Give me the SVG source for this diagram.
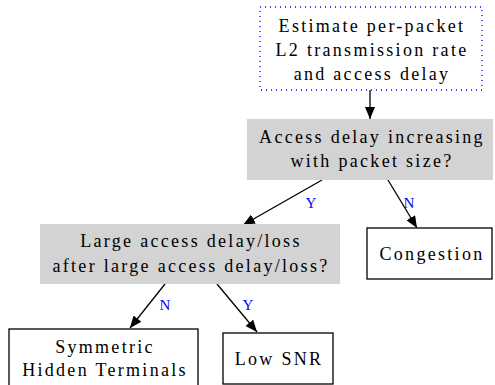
<svg xmlns="http://www.w3.org/2000/svg" width="495" height="385" viewBox="0 0 495 385">
<defs>
<marker id="ah" markerWidth="12" markerHeight="10" refX="12" refY="5" orient="auto" markerUnits="userSpaceOnUse" viewBox="0 0 12 10">
<path d="M0,0 L12,5 L0,10 z" fill="#000"/>
</marker>
<style>
text{font-family:"Liberation Serif","Times New Roman",serif;font-size:18px;letter-spacing:2.3px;text-anchor:middle;fill:#000}
.lbl{font-size:15px;fill:#0000ff;letter-spacing:0}
.box{fill:#fff;stroke:#000;stroke-width:1.3}
.q{fill:#d3d3d3;stroke:none}
.e{stroke:#000;stroke-width:1.3;fill:none;marker-end:url(#ah)}
</style>
</defs>
<rect width="495" height="385" fill="#fff"/>
<g id="connectors">
<line class="e" x1="370" y1="90" x2="370" y2="119"/>
<line class="e" x1="322" y1="180" x2="243" y2="225"/>
<text class="lbl" x="311" y="208">Y</text>
<line class="e" x1="388" y1="180" x2="417" y2="228"/>
<text class="lbl" x="409" y="208">N</text>
<line class="e" x1="165" y1="284" x2="130" y2="328"/>
<text class="lbl" x="165" y="310">N</text>
<line class="e" x1="217" y1="284" x2="257" y2="332"/>
<text class="lbl" x="248" y="310">Y</text>
</g>
<g id="estimate">
<rect x="260" y="7" width="222" height="83" fill="#fff" stroke="#0000ff" stroke-width="1.3" stroke-dasharray="1,4"/>
<text x="372" y="32">Estimate per-packet</text>
<text x="372" y="56">L2 transmission rate</text>
<text x="372" y="80">and access delay</text>
</g>
<g id="q1">
<rect class="q" x="247" y="119" width="246" height="61"/>
<text x="372" y="143">Access delay increasing</text>
<text x="372" y="167">with packet size?</text>
</g>
<g id="congestion">
<rect class="box" x="367" y="228" width="125" height="51"/>
<text x="432" y="260">Congestion</text>
</g>
<g id="q2">
<rect class="q" x="40" y="224" width="300" height="60"/>
<text x="191" y="247">Large access delay/loss</text>
<text x="191" y="272">after large access delay/loss?</text>
</g>
<g id="hidden">
<rect class="box" x="9" y="329" width="189" height="60"/>
<text x="105" y="353">Symmetric</text>
<text x="105" y="376">Hidden Terminals</text>
</g>
<g id="lowsnr">
<rect class="box" x="223" y="333" width="110" height="51"/>
<text x="279" y="365">Low SNR</text>
</g>
</svg>
